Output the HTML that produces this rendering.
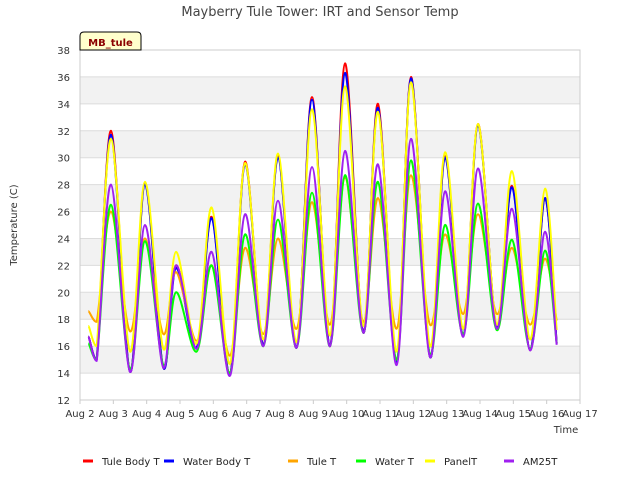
<!DOCTYPE html>
<html><head><meta charset="utf-8"><style>
body{margin:0;background:#fff;font-family:"DejaVu Sans","Liberation Sans",sans-serif}
svg{display:block}
</style></head><body>
<svg id="chart" width="640" height="480" xmlns="http://www.w3.org/2000/svg" font-family="DejaVu Sans, Liberation Sans, sans-serif">
<text x="320" y="16" text-anchor="middle" font-size="13" fill="#444">Mayberry Tule Tower: IRT and Sensor Temp</text>
<g id="bands"></g>
<g id="grid"></g>
<g id="series"></g>
<g id="axes"></g>
<g>
<path d="M80,50 L80,36 Q80,32 84,32 L137,32 Q141,32 141,36 L141,50 Z" fill="#ffffcc" stroke="#000" stroke-width="1"/>
<text x="110.5" y="46" text-anchor="middle" font-size="10" font-weight="bold" fill="#8b0000">MB_tule</text>
</g>
<text transform="translate(17,225) rotate(-90)" text-anchor="middle" font-size="10" fill="#333">Temperature (C)</text>
<text x="566" y="433" text-anchor="middle" font-size="10" fill="#333">Time</text>
<g id="legend"></g>
</svg>
<script>
const times=[2.25,2.5,2.93,3.5,3.95,4.5,4.88,5.5,5.95,6.5,6.95,7.5,7.94,8.5,8.96,9.5,9.95,10.5,10.94,11.5,11.93,12.5,12.95,13.5,13.94,14.5,14.96,15.5,15.95,16.3];
const tuleBody=[16.7,15.0,32.0,14.1,28.1,14.4,22.0,15.9,25.6,13.9,29.7,16.1,30.1,15.9,34.5,16.0,37.0,17.0,34.0,14.7,36.0,15.2,30.1,16.8,32.5,17.4,27.9,15.7,27.0,16.2];
const waterBody=[16.7,15.0,31.7,14.1,28.0,14.4,21.8,15.9,25.5,13.9,29.5,16.1,30.0,15.9,34.3,16.0,36.3,17.0,33.7,14.7,35.9,15.2,30.0,16.8,32.4,17.4,27.8,15.7,27.0,16.2];
const tuleT=[18.6,17.8,26.0,17.1,24.0,16.9,21.5,16.4,22.0,15.3,23.3,16.9,24.0,17.3,26.7,17.6,28.5,17.8,27.0,17.3,28.7,17.6,24.3,18.4,25.8,18.4,23.3,17.6,22.5,17.9];
const waterT=[16.2,15.0,26.5,14.3,23.8,14.6,20.0,15.6,22.0,14.0,24.3,16.0,25.4,15.9,27.4,16.0,28.7,17.0,28.2,15.0,29.8,15.4,25.0,16.9,26.6,17.2,23.9,15.8,23.1,16.2];
const panelT=[17.5,16.0,31.4,15.6,28.2,15.8,23.0,16.2,26.3,14.7,29.6,16.5,30.3,16.3,33.6,16.8,35.3,17.5,33.4,15.6,35.6,16.0,30.4,17.3,32.5,17.6,29.0,16.5,27.7,17.2];
const am25t=[16.7,14.9,28.0,14.1,25.0,14.4,22.0,15.8,23.0,13.8,25.8,16.0,26.8,15.9,29.3,16.0,30.5,17.0,29.5,14.6,31.4,15.2,27.5,16.7,29.2,17.3,26.2,15.7,24.5,16.1];
const seriesNames=["Tule Body T","Water Body T","Tule T","Water T","PanelT","AM25T"];
const seriesColors=["#ff0000","#0000ff","#ffa500","#00ff00","#ffff00","#a020f0"];
const yTicks=[12,14,16,18,20,22,24,26,28,30,32,34,36,38];
const xTicks=[2,3,4,5,6,7,8,9,10,11,12,13,14,15,16,17];
const NS="http://www.w3.org/2000/svg";
const L=80,R=580,T=50,B=400;
const xS=d=>L+(d-2)/15*(R-L);
const yS=v=>B-(v-12)/26*(B-T);
function mk(tag,attrs,parent){const e=document.createElementNS(NS,tag);for(const k in attrs)e.setAttribute(k,attrs[k]);parent.appendChild(e);return e;}
const bands=document.getElementById('bands'),grid=document.getElementById('grid'),axes=document.getElementById('axes');
mk('rect',{x:L,y:T,width:R-L,height:B-T,fill:'#fff'},bands);
for(let v=14;v<38;v+=4){const r=mk('rect',{x:L,y:yS(v+2),width:R-L,height:yS(v)-yS(v+2),fill:'#f2f2f2'},bands);

}
yTicks.forEach(v=>{const l=mk('line',{x1:L,x2:R,y1:yS(v),y2:yS(v),stroke:'#dcdcdc','stroke-width':1},grid);


const t=mk('text',{x:L-10,y:yS(v)+4,'text-anchor':'end','font-size':10,fill:'#333'},axes);t.textContent=v;

});
xTicks.forEach(d=>{const t=mk('text',{x:xS(d),y:417,'text-anchor':'middle','font-size':10,fill:'#333'},axes);t.textContent='Aug '+d;


mk('line',{x1:xS(d),x2:xS(d),y1:B,y2:B+4,stroke:'#ccc'},axes);});
mk('rect',{x:L,y:T,width:R-L,height:B-T,fill:'none',stroke:'#ccc'},axes);
function path(vals){const p=times.map((t,i)=>[xS(t),yS(vals[i])]);let d='M'+p[0][0]+','+p[0][1];
for(let i=0;i<p.length-1;i++){const p0=i===0?p[0]:p[i-1],p1=p[i],p2=p[i+1],p3=p[Math.min(p.length-1,i+2)];
const k=i===0?0:1/6;
const c1=[p1[0]+(p2[0]-p0[0])/6,p1[1]+(p2[1]-p0[1])*k],c2=[p2[0]-(p3[0]-p1[0])/6,p2[1]-(p3[1]-p1[1])/6*(i===0?0:1)];
d+=' C'+c1.join(',')+' '+c2.join(',')+' '+p2.join(',');}return d;}
const all=[tuleBody,waterBody,tuleT,waterT,panelT,am25t];
const sg=document.getElementById('series');
const keys=['tule-body-t','water-body-t','tule-t','water-t','panel-t','am25t'];
all.forEach((vals,i)=>{const e=mk('path',{d:path(vals),fill:'none',stroke:seriesColors[i],'stroke-width':2,'stroke-linejoin':'round'},sg);

});
const lg=document.getElementById('legend');const lx=[83,164,288,356,425,504];
seriesNames.forEach((n,i)=>{const g=mk('g',{},lg);


mk('line',{x1:lx[i],x2:lx[i]+10,y1:461,y2:461,stroke:seriesColors[i],'stroke-width':3},g);
const t=mk('text',{x:lx[i]+19,y:465,'font-size':10,fill:'#222'},g);t.textContent=n;});
</script>
</body></html>
